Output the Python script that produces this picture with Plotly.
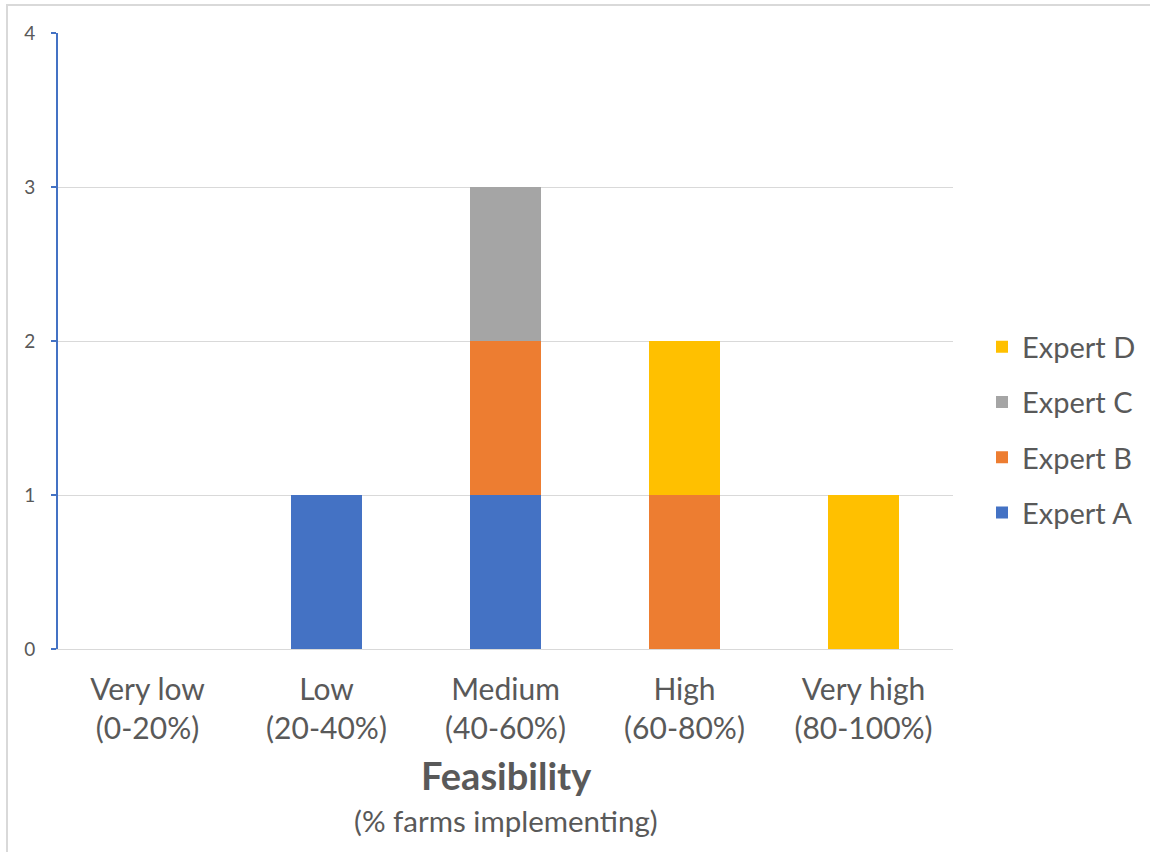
import plotly.graph_objects as go

categories = ["Very low<br>(0-20%)", "Low<br>(20-40%)", "Medium<br>(40-60%)",
              "High<br>(60-80%)", "Very high<br>(80-100%)"]
expert_a = [0, 1, 1, 0, 0]
expert_b = [0, 0, 1, 1, 0]
expert_c = [0, 0, 1, 0, 0]
expert_d = [0, 0, 0, 1, 1]

series = [
    ("Expert A", expert_a, "#4472C4", 4),
    ("Expert B", expert_b, "#ED7D31", 3),
    ("Expert C", expert_c, "#A5A5A5", 2),
    ("Expert D", expert_d, "#FFC000", 1),
]

FONT = "Lato, 'Open Sans', sans-serif"
TXT = "#595959"

fig = go.Figure()
for name, vals, color, rank in series:
    fig.add_trace(go.Bar(x=categories, y=vals, name=name, legendgroup=name,
                         legendrank=rank,
                         marker=dict(color=color, line=dict(width=0))))

W, H = 1150, 852
L, R, T, B = 58, 197, 33, 203
pw, ph = W - L - R, H - T - B

fig.update_layout(
    width=W, height=H,
    barmode="stack", bargap=0.6,
    plot_bgcolor="white", paper_bgcolor="white",
    margin=dict(l=L, r=R, t=T, b=B, autoexpand=False),
    font=dict(family=FONT, color=TXT, size=22),
    legend=dict(traceorder="grouped", x=1.0 + (982 - 953) / pw,
                y=1 - (430 - T) / ph, yanchor="middle", xanchor="left",
                font=dict(size=29, color=TXT), itemsizing="constant",
                tracegroupgap=14.5, itemwidth=30),
    showlegend=True,
)
fig.update_yaxes(range=[0, 4], dtick=1, showgrid=True, gridcolor="#D9D9D9",
                 gridwidth=1.3, zeroline=False, showline=True,
                 linecolor="#4472C4", linewidth=2, ticks="outside",
                 ticklen=5, tickcolor="#4472C4", tickwidth=2,
                 tickfont=dict(size=19, color=TXT), ticklabelstandoff=12)
fig.update_xaxes(showgrid=False, showline=True, linecolor="#D9D9D9",
                 linewidth=1.3, tickfont=dict(size=30, color=TXT),
                 ticklabelstandoff=14)

fig.add_annotation(text="<b>Feasibility</b>", xref="paper", yref="paper",
                   x=(506 - L) / pw, y=-(775 - (T + ph)) / ph,
                   showarrow=False, font=dict(size=38, color=TXT),
                   yanchor="middle")
fig.add_annotation(text="(% farms implementing)", xref="paper", yref="paper",
                   x=(506 - L) / pw, y=-(820 - (T + ph)) / ph,
                   showarrow=False, font=dict(size=29.5, color=TXT),
                   yanchor="middle")

# chart area border
fig.add_shape(type="rect", xref="paper", yref="paper",
              x0=(7 - L) / pw, x1=(W + 5 - L) / pw,
              y0=-(H + 5 - T - ph) / ph, y1=1 + (T - 5) / ph,
              line=dict(color="#D9D9D9", width=2), layer="below")

fig.write_html("out.html")
